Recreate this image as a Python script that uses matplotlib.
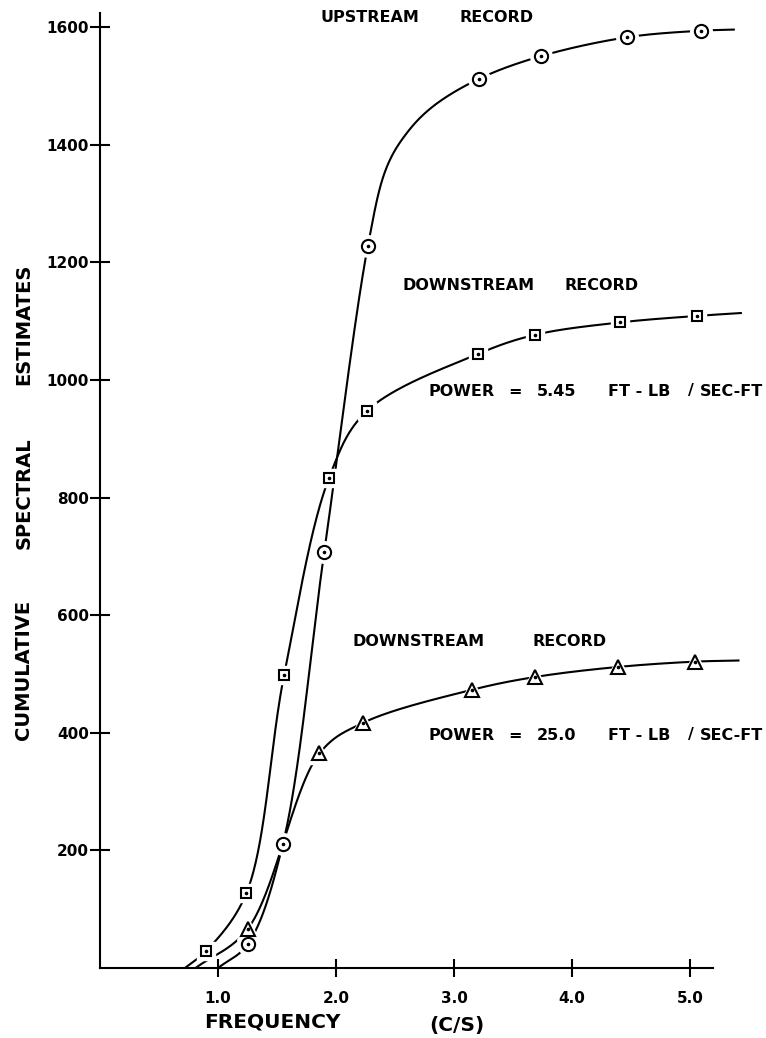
import numpy as np
import matplotlib

matplotlib.use("Agg")
import matplotlib.pyplot as plt

FIG_W, FIG_H = 766, 1038
PX_PER_HZ = 118
PX_PER_UNIT = 0.588

# upstream record (circles)
up_freq = [1.25, 1.55, 1.90, 2.27, 3.21, 3.74, 4.47, 5.09]
up_est = [40, 211, 707, 1228, 1512, 1551, 1583, 1594]
# curve trace read where the drawn line has no marker
up_trace_freq = [1.00, 2.43, 2.60, 2.82, 5.38]
up_trace_est = [0, 1362, 1420, 1465, 1596]

# downstream record, power 5.45 (squares)
dn1_freq = [0.90, 1.24, 1.56, 1.94, 2.26, 3.20, 3.69, 4.41, 5.06]
dn1_est = [29, 127, 498, 833, 947, 1044, 1077, 1098, 1109]
dn1_trace_freq = [0.72, 5.44]
dn1_trace_est = [0, 1114]

# downstream record, power 25.0 (triangles)
dn2_freq = [1.25, 1.86, 2.23, 3.15, 3.69, 4.39, 5.04]
dn2_est = [66, 365, 417, 473, 495, 512, 521]
dn2_trace_freq = [0.81, 5.42]
dn2_trace_est = [0, 523]

x_ticks = [1.0, 2.0, 3.0, 4.0, 5.0]
x_tick_labels = ["1.0", "2.0", "3.0", "4.0", "5.0"]
y_ticks = [200, 400, 600, 800, 1000, 1200, 1400, 1600]
y_tick_labels = ["200", "400", "600", "800", "1000", "1200", "1400", "1600"]

FONT = dict(family="DejaVu Sans", fontweight="bold", color="black")


def smooth_line(x, y, n=60):
    # centripetal catmull-rom through the read points, in screen-like units,
    # only used to draw the hand-faired line
    p = np.column_stack([np.asarray(x, float) * PX_PER_HZ,
                         np.asarray(y, float) * PX_PER_UNIT])
    p = np.vstack([2 * p[0] - p[1], p, 2 * p[-1] - p[-2]])
    out = []
    for i in range(1, len(p) - 2):
        p0, p1, p2, p3 = p[i - 1], p[i], p[i + 1], p[i + 2]
        t0 = 0.0
        t1 = t0 + np.linalg.norm(p1 - p0) ** 0.5
        t2 = t1 + np.linalg.norm(p2 - p1) ** 0.5
        t3 = t2 + np.linalg.norm(p3 - p2) ** 0.5
        t = np.linspace(t1, t2, n)[:, None]
        a1 = (t1 - t) / (t1 - t0) * p0 + (t - t0) / (t1 - t0) * p1
        a2 = (t2 - t) / (t2 - t1) * p1 + (t - t1) / (t2 - t1) * p2
        a3 = (t3 - t) / (t3 - t2) * p2 + (t - t2) / (t3 - t2) * p3
        b1 = (t2 - t) / (t2 - t0) * a1 + (t - t0) / (t2 - t0) * a2
        b2 = (t3 - t) / (t3 - t1) * a2 + (t - t1) / (t3 - t1) * a3
        out.append((t2 - t) / (t2 - t1) * b1 + (t - t1) / (t2 - t1) * b2)
    c = np.vstack(out)
    return c[:, 0] / PX_PER_HZ, c[:, 1] / PX_PER_UNIT


def draw_series(ax, freq, est, trace_freq, trace_est, marker, size):
    pts = sorted(zip(list(freq) + list(trace_freq), list(est) + list(trace_est)))
    xs, ys = smooth_line([q[0] for q in pts], [q[1] for q in pts])
    ax.plot(xs, ys, color="black", lw=1.5, zorder=2, clip_on=False,
            solid_capstyle="butt")
    # white halo leaves the small gap round each marker
    ax.plot(freq, est, linestyle="none", marker=marker, ms=size + 6,
            mfc="white", mec="white", zorder=3, clip_on=False)
    ax.plot(freq, est, linestyle="none", marker=marker, ms=size,
            mfc="white", mec="black", mew=1.5, zorder=4, clip_on=False)
    ax.plot(freq, est, linestyle="none", marker="o", ms=1.6,
            color="black", zorder=5, clip_on=False)


def fig_text(fig, px, py, s, size, **kw):
    fig.text(px / FIG_W, 1 - py / FIG_H, s, fontsize=size, va="center", **FONT, **kw)


def power_label(fig, py, value):
    fig_text(fig, 428, py, "POWER", 11.5)
    fig_text(fig, 508, py, "=", 11.5)
    fig_text(fig, 537, py, value, 11.5)
    fig_text(fig, 608, py, "FT - LB", 11.5)
    fig_text(fig, 688, py, "/", 11.5)
    fig_text(fig, 700, py, "SEC-FT", 11.5)


def main() -> None:
    fig = plt.figure(figsize=(FIG_W / 100, FIG_H / 100), dpi=100)
    ax = fig.add_axes([100 / FIG_W, 1 - 968 / FIG_H, 613 / FIG_W, 955 / FIG_H])
    ax.set_xlim(0, 613 / PX_PER_HZ)
    ax.set_ylim(0, 955 / PX_PER_UNIT)

    for side in ["top", "right"]:
        ax.spines[side].set_visible(False)
    for side in ["left", "bottom"]:
        ax.spines[side].set_linewidth(1.5)

    ax.set_xticks(x_ticks)
    ax.set_xticklabels(x_tick_labels, fontsize=11, fontweight="bold")
    ax.set_yticks(y_ticks)
    ax.set_yticklabels(y_tick_labels, fontsize=11, fontweight="bold")
    ax.tick_params(axis="y", direction="inout", length=14, width=1.5, pad=1)
    ax.tick_params(axis="x", direction="inout", length=13, width=1.5, pad=10)

    draw_series(ax, up_freq, up_est, up_trace_freq, up_trace_est, "o", 9.5)
    draw_series(ax, dn1_freq, dn1_est, dn1_trace_freq, dn1_trace_est, "s", 7.5)
    draw_series(ax, dn2_freq, dn2_est, dn2_trace_freq, dn2_trace_est, "^", 10)

    # curve labels
    fig_text(fig, 320, 17, "UPSTREAM", 11.5)
    fig_text(fig, 459, 17, "RECORD", 11.5)
    fig_text(fig, 403, 285, "DOWNSTREAM", 11.5)
    fig_text(fig, 564, 285, "RECORD", 11.5)
    power_label(fig, 391, "5.45")
    fig_text(fig, 353, 642, "DOWNSTREAM", 11.5)
    fig_text(fig, 532, 642, "RECORD", 11.5)
    power_label(fig, 735, "25.0")

    # axis labels
    fig_text(fig, 24, 324, "ESTIMATES", 14, rotation=90, ha="center")
    fig_text(fig, 24, 493, "SPECTRAL", 14, rotation=90, ha="center")
    fig_text(fig, 24, 670, "CUMULATIVE", 14, rotation=90, ha="center")
    fig_text(fig, 272, 1022, "FREQUENCY", 14.5, ha="center")
    fig_text(fig, 457, 1025, "(C/S)", 14.5, ha="center")

    fig.savefig("out.png", dpi=100)


if __name__ == "__main__":
    main()
